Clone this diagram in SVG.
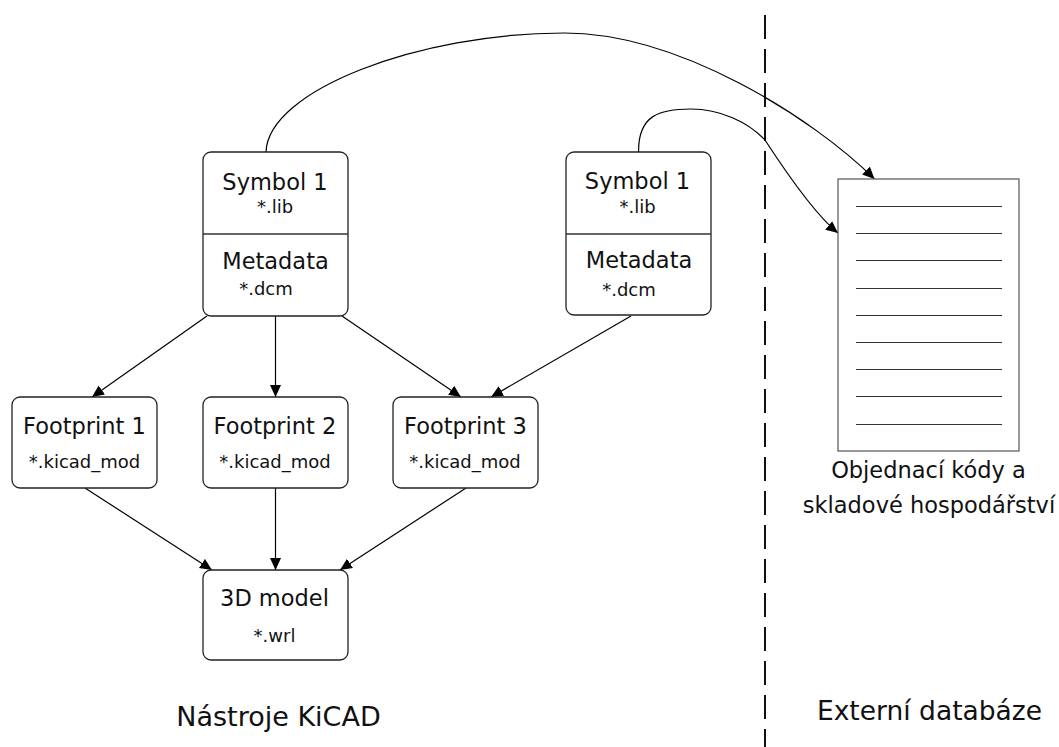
<svg xmlns="http://www.w3.org/2000/svg" width="1059" height="747" viewBox="0 0 1059 747">
  <defs>
    <marker id="arrow" markerUnits="userSpaceOnUse" markerWidth="13" markerHeight="13" refX="12" refY="6" orient="auto">
      <path d="M0,0.5 L12,6 L0,11.5 z" fill="#000"/>
    </marker>
    <style>
      .box { fill: #fff; stroke: #222; stroke-width: 1.3; }
      .sep { stroke: #333; stroke-width: 1.3; }
      .t { font-family: "DejaVu Sans", "Liberation Sans", sans-serif; fill: #111; text-anchor: middle; }
      .big { font-size: 22.5px; }
      .small { font-size: 18px; }
      .label { font-size: 27px; }
      .edge { fill: none; stroke: #000; stroke-width: 1.2; marker-end: url(#arrow); }
      .doc { fill: #fff; stroke: #555; stroke-width: 1.2; }
      .row { stroke: #333; stroke-width: 1; }
    </style>
  </defs>
  <rect width="1059" height="747" fill="#fff"/>

  <!-- boundary between KiCAD tools and external database -->
  <line x1="765" y1="15" x2="765" y2="747" stroke="#111" stroke-width="2" stroke-dasharray="24 10"/>

  <!-- connectors -->
  <g id="connectors">
    <line class="edge" x1="207" y1="316" x2="92" y2="397"/>
    <line class="edge" x1="275.5" y1="316" x2="275.5" y2="397"/>
    <line class="edge" x1="342" y1="316" x2="461" y2="397"/>
    <line class="edge" x1="631" y1="316" x2="491" y2="397"/>
    <line class="edge" x1="85" y1="488" x2="212" y2="570"/>
    <line class="edge" x1="275.5" y1="488" x2="275.5" y2="570"/>
    <line class="edge" x1="466" y1="488" x2="340" y2="570"/>
    <path class="edge" d="M266,152 C268,90 420,33 564,33 C680,33 814,119 874.5,179"/>
    <path class="edge" d="M638.6,152 C638,115 660,109 691,109 C720,109 748,122 765,140 C778,160 812,212 838,233"/>
  </g>

  <!-- symbol with metadata (left) -->
  <g id="symbol-left">
    <rect class="box" x="203" y="152" width="145" height="164" rx="8"/>
    <line class="sep" x1="203" y1="234" x2="348" y2="234"/>
    <text class="t big" x="275" y="190">Symbol 1</text>
    <text class="t small" x="275" y="213">*.lib</text>
    <text class="t big" x="275.5" y="269">Metadata</text>
    <text class="t small" x="266" y="295">*.dcm</text>
  </g>

  <!-- symbol with metadata (right) -->
  <g id="symbol-right">
    <rect class="box" x="566" y="152" width="145" height="163" rx="8"/>
    <line class="sep" x1="566" y1="234" x2="711" y2="234"/>
    <text class="t big" x="637.5" y="189">Symbol 1</text>
    <text class="t small" x="637.5" y="213">*.lib</text>
    <text class="t big" x="639" y="268">Metadata</text>
    <text class="t small" x="629" y="296">*.dcm</text>
  </g>

  <g id="footprint-1">
    <rect class="box" x="12" y="397" width="145" height="91" rx="8"/>
    <text class="t big" x="84.5" y="434">Footprint 1</text>
    <text class="t small" x="84.5" y="468">*.kicad_mod</text>
  </g>

  <g id="footprint-2">
    <rect class="box" x="203" y="397" width="145" height="91" rx="8"/>
    <text class="t big" x="275" y="434">Footprint 2</text>
    <text class="t small" x="275" y="468">*.kicad_mod</text>
  </g>

  <g id="footprint-3">
    <rect class="box" x="393" y="397" width="145" height="91" rx="8"/>
    <text class="t big" x="465.5" y="434">Footprint 3</text>
    <text class="t small" x="465" y="468">*.kicad_mod</text>
  </g>

  <g id="model-3d">
    <rect class="box" x="203" y="570" width="145" height="90" rx="8"/>
    <text class="t big" x="274.5" y="606">3D model</text>
    <text class="t small" x="274.5" y="642">*.wrl</text>
  </g>

  <!-- external order-code sheet -->
  <g id="database-sheet">
    <rect class="doc" x="838" y="179" width="181" height="272"/>
    <line class="row" x1="856" y1="206.5" x2="1002" y2="206.5"/>
    <line class="row" x1="856" y1="233.5" x2="1002" y2="233.5"/>
    <line class="row" x1="856" y1="260.5" x2="1002" y2="260.5"/>
    <line class="row" x1="856" y1="288.5" x2="1002" y2="288.5"/>
    <line class="row" x1="856" y1="315.5" x2="1002" y2="315.5"/>
    <line class="row" x1="856" y1="342.5" x2="1002" y2="342.5"/>
    <line class="row" x1="856" y1="369.5" x2="1002" y2="369.5"/>
    <line class="row" x1="856" y1="396.5" x2="1002" y2="396.5"/>
    <line class="row" x1="856" y1="424.5" x2="1002" y2="424.5"/>
    <text class="t big" x="928.5" y="478">Objednací kódy a</text>
    <text class="t big" x="929" y="513">skladové hospodářství</text>
  </g>

  <g id="section-labels">
    <text class="t label" x="278.5" y="726">Nástroje KiCAD</text>
    <text class="t" x="929.5" y="720" font-size="26.5px">Externí databáze</text>
  </g>
</svg>
